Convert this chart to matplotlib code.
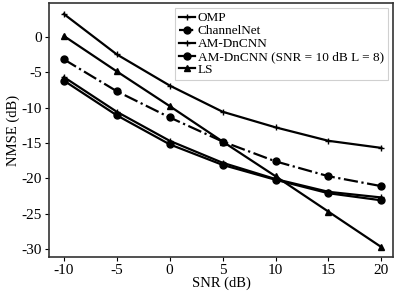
import matplotlib
matplotlib.use("Agg")
import matplotlib.pyplot as plt

plt.rcParams['font.family'] = ['Liberation Serif', 'DejaVu Serif']
plt.rcParams['axes.unicode_minus'] = False

snr = [-10, -5, 0, 5, 10, 15, 20]
omp = [3.2, -2.5, -6.9, -10.6, -12.8, -14.7, -15.7]
channelnet = [-3.2, -7.7, -11.4, -14.8, -17.6, -19.7, -21.1]
am_dncnn = [-5.7, -10.6, -14.7, -17.8, -20.1, -21.9, -22.7]
am_dncnn_10 = [-6.2, -11.1, -15.2, -18.1, -20.2, -22.1, -23.1]
ls = [0.1, -4.9, -9.8, -14.8, -19.7, -24.7, -29.7]

fig = plt.figure(figsize=(4.0, 2.94), dpi=100)
ax = fig.add_axes([49/400, 1-257/294, (393-49)/400, (257-3)/294])

kw = dict(color='black', linewidth=1.6)
ax.plot(snr, omp, marker='+', markersize=5, markeredgewidth=1.0, label='OMP', **kw)
ax.plot(snr, channelnet, marker='o', markersize=5, linestyle='-.', label='ChannelNet', **kw)
ax.plot(snr, am_dncnn, marker='+', markersize=5, markeredgewidth=1.0, label='AM-DnCNN', **kw)
ax.plot(snr, am_dncnn_10, marker='o', markersize=5, label='AM-DnCNN (SNR = 10 dB L = 8)', **kw)
ax.plot(snr, ls, marker='^', markersize=4.5, label='LS', **kw)

ax.set_xlim(-11.4, 21.1)
ax.set_ylim(-31.1, 4.75)
ax.set_xticks([-10, -5, 0, 5, 10, 15, 20])
ax.set_yticks([0, -5, -10, -15, -20, -25, -30])
ax.tick_params(labelsize=11, length=3, width=0.8, direction='out', pad=2)
ax.set_xlabel('SNR (dB)', fontsize=10.5, labelpad=0)
ax.set_ylabel('NMSE (dB)', fontsize=10.5, labelpad=1)
for s in ax.spines.values():
    s.set_linewidth(1.2)
    s.set_color('#333333')

leg = ax.legend(loc='upper right', fontsize=9.5, handlelength=1.2, handletextpad=0.2,
                labelspacing=0.05, borderpad=0.3, borderaxespad=0.4, framealpha=1,
                fancybox=False, edgecolor='#d0d0d0')
leg.get_frame().set_linewidth(0.8)

fig.savefig('out.png', dpi=100)
